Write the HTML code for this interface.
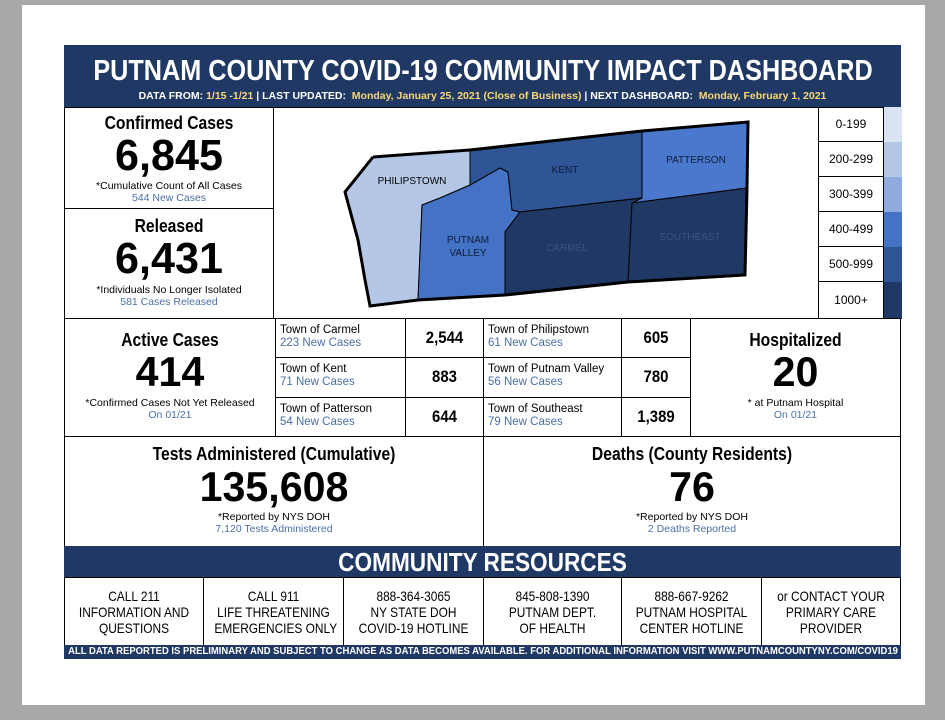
<!DOCTYPE html>
<html><head><meta charset="utf-8">
<style>
*{margin:0;padding:0;box-sizing:border-box}
body{width:945px;height:720px;background:#a8a8a8;position:relative;overflow:hidden;font-family:"Liberation Sans",sans-serif;}
.page{position:absolute;left:22px;top:5px;width:903px;height:700px;background:#fff}
.a{position:absolute}
.c{position:absolute;border:1px solid #000;background:#fff;text-align:center}
.c div,.navy div{white-space:nowrap}
.h{transform:scaleX(0.87)}
.n{transform:scaleX(0.98)}
.navy{background:#203864;color:#fff}
.b{font-weight:bold}
.blue{color:#4a6fa5}
.tn{position:absolute;left:4px;font-size:11.5px;line-height:13px;text-align:left}
.val{font-size:17px;font-weight:bold;position:absolute;left:0;right:0;text-align:center;transform:scaleX(0.88)}
.res{font-size:14px;line-height:16px;padding-top:10px}
.res div{transform:scaleX(0.85)}
.ctr{position:absolute;left:50%;white-space:nowrap}
</style></head><body>
<div class="page"></div>
<div class="a navy" style="left:64px;top:45px;width:837px;height:62px">
 <div class="b ctr" style="top:12px;font-size:29px;line-height:29px;transform:translateX(-50%) scaleX(0.87)">PUTNAM COUNTY COVID-19 COMMUNITY IMPACT DASHBOARD</div>
 <div class="b ctr" style="top:45px;font-size:10.5px;transform:translateX(-50%)">DATA FROM: <span style="color:#f5d77a">1/15 -1/21</span> | LAST UPDATED: &nbsp;<span style="color:#f5d77a">Monday, January 25, 2021 (Close of Business)</span> | NEXT DASHBOARD: &nbsp;<span style="color:#f5d77a">Monday, February 1, 2021</span></div>
</div>
<div class="a" style="left:64px;top:107px;width:837px;height:551px;border:1px solid #000"></div>
<!-- confirmed -->
<div class="c" style="left:64px;top:107px;width:210px;height:102px">
 <div class="b h" style="font-size:18px;margin-top:5px">Confirmed Cases</div>
 <div class="b n" style="font-size:44px;line-height:44px">6,845</div>
 <div style="font-size:10.5px;margin-top:2px">*Cumulative Count of All Cases</div>
 <div class="blue" style="font-size:10.5px">544 New Cases</div>
</div>
<div class="c" style="left:64px;top:208px;width:210px;height:111px">
 <div class="b h" style="font-size:18px;margin-top:7px">Released</div>
 <div class="b n" style="font-size:44px;line-height:44px">6,431</div>
 <div style="font-size:10.5px;margin-top:3px">*Individuals No Longer Isolated</div>
 <div class="blue" style="font-size:10.5px">581 Cases Released</div>
</div>
<!-- map -->
<svg class="a" style="left:273px;top:107px" width="546" height="212" viewBox="273 107 546 212">
 <g stroke="#000" stroke-width="1">
 <polygon fill="#b4c7e7" points="373,157 470,150 470,185 440,198 422,205 418,300 370,306 365,280 358,240 345,192"/>
 <polygon fill="#4472c4" points="422,205 440,198 470,185 500,168 508,172 512,210 520,212 505,232 505,295 418,300"/>
 <polygon fill="#2f5597" points="470,150 642,131 642,198 520,212 512,210 508,172 500,168 470,185"/>
 <polygon fill="#4a78cc" points="642,131 748,122 747,188 632,203 642,198"/>
 <polygon fill="#1f3864" points="520,212 642,198 632,203 628,282 505,295 505,232"/>
 <polygon fill="#1f3864" points="632,203 747,188 745,275 628,282"/>
 </g>
 <polyline fill="none" stroke="#000" stroke-width="3" points="373,157 470,150 642,131 748,122 747,188 745,275 628,282 505,295 418,300 370,306 365,280 358,240 345,192 373,157"/>
 <g font-family="Liberation Sans" font-size="10" text-anchor="middle">
 <text x="412" y="184" fill="#000">PHILIPSTOWN</text>
 <text x="565" y="173" fill="#0d1d3a">KENT</text>
 <text x="696" y="163" fill="#0d1d3a">PATTERSON</text>
 <text x="468" y="243" fill="#0d1d3a">PUTNAM</text>
 <text x="468" y="256" fill="#0d1d3a">VALLEY</text>
 <text x="567" y="251" fill="#3a5284">CARMEL</text>
 <text x="690" y="240" fill="#3a5284">SOUTHEAST</text>
 </g>
</svg>
<!-- legend -->
<div class="a" style="left:818px;top:107px;width:83px;height:212px;border-left:1px solid #000">
 <div style="position:absolute;left:0;top:0;width:64px;height:212px;font-size:12px;text-align:center">
  <div style="height:35px;line-height:35px;border-bottom:1px solid #000">0-199</div>
  <div style="height:35px;line-height:35px;border-bottom:1px solid #000">200-299</div>
  <div style="height:35px;line-height:35px;border-bottom:1px solid #000">300-399</div>
  <div style="height:35px;line-height:35px;border-bottom:1px solid #000">400-499</div>
  <div style="height:35px;line-height:35px;border-bottom:1px solid #000">500-999</div>
  <div style="height:36px;line-height:36px">1000+</div>
 </div>
 <div style="position:absolute;left:64px;top:0;width:19px;height:212px;border-left:1px solid #000">
  <div style="height:35px;background:#dae3f3"></div><div style="height:35px;background:#b4c7e7"></div><div style="height:35px;background:#8faadc"></div><div style="height:35px;background:#4472c4"></div><div style="height:35px;background:#2f5597"></div><div style="height:37px;background:#1f3864"></div>
 </div>
</div>
<!-- active -->
<div class="c" style="left:64px;top:318px;width:212px;height:119px">
 <div class="b h" style="font-size:18px;margin-top:11px">Active Cases</div>
 <div class="b n" style="font-size:42px;line-height:42px">414</div>
 <div style="font-size:10.5px;margin-top:4px">*Confirmed Cases Not Yet Released</div>
 <div class="blue" style="font-size:10.5px">On 01/21</div>
</div>
<!-- towns -->
<div class="c" style="left:275px;top:318px;width:131px;height:40px"><div class="tn" style="top:5px">Town of Carmel<br><span class="blue">223 New Cases</span></div></div>
<div class="c" style="left:405px;top:318px;width:79px;height:40px"><div class="val" style="top:9px">2,544</div></div>
<div class="c" style="left:483px;top:318px;width:139px;height:40px"><div class="tn" style="top:5px">Town of Philipstown<br><span class="blue">61 New Cases</span></div></div>
<div class="c" style="left:621px;top:318px;width:70px;height:40px"><div class="val" style="top:9px">605</div></div>
<div class="c" style="left:275px;top:357px;width:131px;height:41px"><div class="tn" style="top:5px">Town of Kent<br><span class="blue">71 New Cases</span></div></div>
<div class="c" style="left:405px;top:357px;width:79px;height:41px"><div class="val" style="top:9px">883</div></div>
<div class="c" style="left:483px;top:357px;width:139px;height:41px"><div class="tn" style="top:5px">Town of Putnam Valley<br><span class="blue">56 New Cases</span></div></div>
<div class="c" style="left:621px;top:357px;width:70px;height:41px"><div class="val" style="top:9px">780</div></div>
<div class="c" style="left:275px;top:397px;width:131px;height:40px"><div class="tn" style="top:5px">Town of Patterson<br><span class="blue">54 New Cases</span></div></div>
<div class="c" style="left:405px;top:397px;width:79px;height:40px"><div class="val" style="top:9px">644</div></div>
<div class="c" style="left:483px;top:397px;width:139px;height:40px"><div class="tn" style="top:5px">Town of Southeast<br><span class="blue">79 New Cases</span></div></div>
<div class="c" style="left:621px;top:397px;width:70px;height:40px"><div class="val" style="top:9px">1,389</div></div>
<div class="c" style="left:690px;top:318px;width:211px;height:119px">
 <div class="b h" style="font-size:18px;margin-top:11px">Hospitalized</div>
 <div class="b n" style="font-size:42px;line-height:42px">20</div>
 <div style="font-size:10.5px;margin-top:4px">* at Putnam Hospital</div>
 <div class="blue" style="font-size:10.5px">On 01/21</div>
</div>
<!-- tests/deaths -->
<div class="c" style="left:64px;top:436px;width:420px;height:111px">
 <div class="b h" style="font-size:18px;margin-top:7px">Tests Administered (Cumulative)</div>
 <div class="b n" style="font-size:42px;line-height:44px">135,608</div>
 <div style="font-size:10.5px;margin-top:2px">*Reported by NYS DOH</div>
 <div class="blue" style="font-size:10.5px">7,120 Tests Administered</div>
</div>
<div class="c" style="left:483px;top:436px;width:418px;height:111px">
 <div class="b h" style="font-size:18px;margin-top:7px">Deaths (County Residents)</div>
 <div class="b n" style="font-size:42px;line-height:44px">76</div>
 <div style="font-size:10.5px;margin-top:2px">*Reported by NYS DOH</div>
 <div class="blue" style="font-size:10.5px">2 Deaths Reported</div>
</div>
<div class="a navy b" style="left:64px;top:546px;width:837px;height:32px;text-align:center;font-size:26px;line-height:32px"><div style="transform:scaleX(0.87)">COMMUNITY RESOURCES</div></div>
<div class="c res" style="left:64px;top:577px;width:140px;height:69px"><div>CALL 211</div><div>INFORMATION AND</div><div>QUESTIONS</div></div>
<div class="c res" style="left:203px;top:577px;width:141px;height:69px"><div>CALL 911</div><div>LIFE THREATENING</div><div>EMERGENCIES ONLY</div></div>
<div class="c res" style="left:343px;top:577px;width:141px;height:69px"><div>888-364-3065</div><div>NY STATE DOH</div><div>COVID-19 HOTLINE</div></div>
<div class="c res" style="left:483px;top:577px;width:139px;height:69px"><div>845-808-1390</div><div>PUTNAM DEPT.</div><div>OF HEALTH</div></div>
<div class="c res" style="left:621px;top:577px;width:141px;height:69px"><div>888-667-9262</div><div>PUTNAM HOSPITAL</div><div>CENTER HOTLINE</div></div>
<div class="c res" style="left:761px;top:577px;width:140px;height:69px"><div>or CONTACT YOUR</div><div>PRIMARY CARE</div><div>PROVIDER</div></div>
<div class="a navy b" style="left:64px;top:645px;width:837px;height:14px;font-size:10.3px;line-height:14px;overflow:hidden"><div class="ctr" style="top:0;transform:translateX(-50%) scaleX(0.92)">ALL DATA REPORTED IS PRELIMINARY AND SUBJECT TO CHANGE AS DATA BECOMES AVAILABLE. FOR ADDITIONAL INFORMATION VISIT WWW.PUTNAMCOUNTYNY.COM/COVID19</div></div>
</body></html>
